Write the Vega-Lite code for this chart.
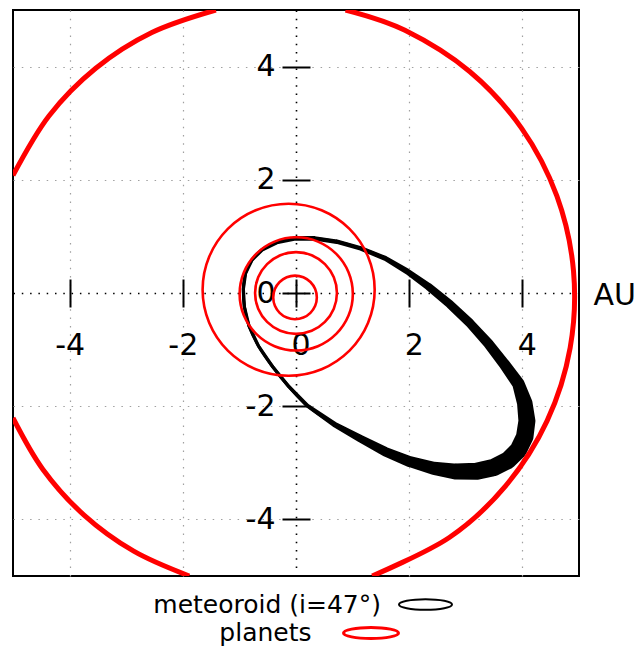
{
  "$schema": "https://vega.github.io/schema/vega-lite/v6.json",
  "width": 566,
  "height": 566,
  "padding": {"left": 13, "top": 10, "right": 0, "bottom": 0},
  "background": "white",
  "config": {
    "font": "DejaVu Sans",
    "view": {"stroke": "black", "strokeWidth": 2}
  },
  "datasets": {
    "meteoroid": [
      {"t": 0, "x": 3.928, "y": -2.773, "spread": 0.309},
      {"t": 10, "x": 4.041, "y": -2.539, "spread": 0.309},
      {"t": 20, "x": 4.080, "y": -2.260, "spread": 0.300},
      {"t": 30, "x": 4.042, "y": -1.946, "spread": 0.274},
      {"t": 40, "x": 3.930, "y": -1.606, "spread": 0.221},
      {"t": 50, "x": 3.676, "y": -1.251, "spread": 0.194},
      {"t": 60, "x": 3.396, "y": -0.891, "spread": 0.177},
      {"t": 70, "x": 3.077, "y": -0.537, "spread": 0.159},
      {"t": 80, "x": 2.720, "y": -0.200, "spread": 0.150},
      {"t": 90, "x": 2.344, "y": 0.110, "spread": 0.133},
      {"t": 100, "x": 1.963, "y": 0.383, "spread": 0.106},
      {"t": 110, "x": 1.578, "y": 0.611, "spread": 0.088},
      {"t": 120, "x": 1.143, "y": 0.788, "spread": 0.080},
      {"t": 130, "x": 0.721, "y": 0.907, "spread": 0.080},
      {"t": 140, "x": 0.325, "y": 0.965, "spread": 0.080},
      {"t": 150, "x": -0.033, "y": 0.961, "spread": 0.080},
      {"t": 160, "x": -0.342, "y": 0.894, "spread": 0.071},
      {"t": 170, "x": -0.593, "y": 0.767, "spread": 0.062},
      {"t": 180, "x": -0.778, "y": 0.583, "spread": 0.058},
      {"t": 190, "x": -0.891, "y": 0.349, "spread": 0.057},
      {"t": 200, "x": -0.930, "y": 0.070, "spread": 0.057},
      {"t": 210, "x": -0.912, "y": -0.244, "spread": 0.057},
      {"t": 220, "x": -0.830, "y": -0.584, "spread": 0.057},
      {"t": 230, "x": -0.661, "y": -0.939, "spread": 0.057},
      {"t": 240, "x": -0.415, "y": -1.299, "spread": 0.057},
      {"t": 250, "x": -0.127, "y": -1.653, "spread": 0.062},
      {"t": 260, "x": 0.200, "y": -1.990, "spread": 0.071},
      {"t": 270, "x": 0.676, "y": -2.320, "spread": 0.097},
      {"t": 280, "x": 1.137, "y": -2.573, "spread": 0.133},
      {"t": 290, "x": 1.572, "y": -2.801, "spread": 0.168},
      {"t": 300, "x": 2.007, "y": -2.978, "spread": 0.194},
      {"t": 310, "x": 2.429, "y": -3.097, "spread": 0.230},
      {"t": 320, "x": 2.825, "y": -3.155, "spread": 0.283},
      {"t": 330, "x": 3.183, "y": -3.151, "spread": 0.300},
      {"t": 340, "x": 3.492, "y": -3.084, "spread": 0.309},
      {"t": 350, "x": 3.743, "y": -2.957, "spread": 0.309},
      {"t": 360, "x": 3.928, "y": -2.773, "spread": 0.309}
    ],
    "jupiter": [
      {"arc": "A", "t": -71.87, "x": 1.346, "y": -5.0},
      {"arc": "A", "t": -55, "x": 2.709, "y": -4.319},
      {"arc": "A", "t": -40, "x": 3.708, "y": -3.403},
      {"arc": "A", "t": -25, "x": 4.436, "y": -2.260},
      {"arc": "A", "t": -10, "x": 4.844, "y": -0.967},
      {"arc": "A", "t": 5, "x": 4.903, "y": 0.388},
      {"arc": "A", "t": 20, "x": 4.610, "y": 1.711},
      {"arc": "A", "t": 35, "x": 3.984, "y": 2.914},
      {"arc": "A", "t": 50, "x": 3.068, "y": 3.913},
      {"arc": "A", "t": 65, "x": 1.925, "y": 4.641},
      {"arc": "A", "t": 77.25, "x": 0.876, "y": 5.0},
      {"arc": "B", "t": 102.75, "x": -1.416, "y": 5.0},
      {"arc": "B", "t": 116, "x": -2.547, "y": 4.603},
      {"arc": "B", "t": 129, "x": -3.538, "y": 3.971},
      {"arc": "B", "t": 142, "x": -4.362, "y": 3.132},
      {"arc": "B", "t": 155.62, "x": -5.0, "y": 2.078},
      {"arc": "C", "t": 204.38, "x": -5.0, "y": -2.208},
      {"arc": "C", "t": 216, "x": -4.471, "y": -3.117},
      {"arc": "C", "t": 228, "x": -3.745, "y": -3.924},
      {"arc": "C", "t": 240, "x": -2.867, "y": -4.562},
      {"arc": "C", "t": 251.87, "x": -1.886, "y": -5.0}
    ],
    "planets": [
      {"body": "Mars", "t": 0, "x": 1.390, "y": 0.058},
      {"body": "Mars", "t": 22.5, "x": 1.274, "y": 0.640},
      {"body": "Mars", "t": 45, "x": 0.945, "y": 1.133},
      {"body": "Mars", "t": 67.5, "x": 0.452, "y": 1.462},
      {"body": "Mars", "t": 90, "x": -0.130, "y": 1.578},
      {"body": "Mars", "t": 112.5, "x": -0.712, "y": 1.462},
      {"body": "Mars", "t": 135, "x": -1.205, "y": 1.133},
      {"body": "Mars", "t": 157.5, "x": -1.534, "y": 0.640},
      {"body": "Mars", "t": 180, "x": -1.650, "y": 0.058},
      {"body": "Mars", "t": 202.5, "x": -1.534, "y": -0.524},
      {"body": "Mars", "t": 225, "x": -1.205, "y": -1.017},
      {"body": "Mars", "t": 247.5, "x": -0.712, "y": -1.346},
      {"body": "Mars", "t": 270, "x": -0.130, "y": -1.462},
      {"body": "Mars", "t": 292.5, "x": 0.452, "y": -1.346},
      {"body": "Mars", "t": 315, "x": 0.945, "y": -1.017},
      {"body": "Mars", "t": 337.5, "x": 1.274, "y": -0.524},
      {"body": "Earth", "t": 0, "x": 1.004, "y": -0.016},
      {"body": "Earth", "t": 22.5, "x": 0.928, "y": 0.367},
      {"body": "Earth", "t": 45, "x": 0.711, "y": 0.691},
      {"body": "Earth", "t": 67.5, "x": 0.387, "y": 0.908},
      {"body": "Earth", "t": 90, "x": 0.004, "y": 0.984},
      {"body": "Earth", "t": 112.5, "x": -0.379, "y": 0.908},
      {"body": "Earth", "t": 135, "x": -0.703, "y": 0.691},
      {"body": "Earth", "t": 157.5, "x": -0.920, "y": 0.367},
      {"body": "Earth", "t": 180, "x": -0.996, "y": -0.016},
      {"body": "Earth", "t": 202.5, "x": -0.920, "y": -0.399},
      {"body": "Earth", "t": 225, "x": -0.703, "y": -0.723},
      {"body": "Earth", "t": 247.5, "x": -0.379, "y": -0.940},
      {"body": "Earth", "t": 270, "x": 0.004, "y": -1.016},
      {"body": "Earth", "t": 292.5, "x": 0.387, "y": -0.940},
      {"body": "Earth", "t": 315, "x": 0.711, "y": -0.723},
      {"body": "Earth", "t": 337.5, "x": 0.928, "y": -0.399},
      {"body": "Venus", "t": 0, "x": 0.723, "y": 0.0},
      {"body": "Venus", "t": 22.5, "x": 0.668, "y": 0.277},
      {"body": "Venus", "t": 45, "x": 0.511, "y": 0.511},
      {"body": "Venus", "t": 67.5, "x": 0.277, "y": 0.668},
      {"body": "Venus", "t": 90, "x": 0.0, "y": 0.723},
      {"body": "Venus", "t": 112.5, "x": -0.277, "y": 0.668},
      {"body": "Venus", "t": 135, "x": -0.511, "y": 0.511},
      {"body": "Venus", "t": 157.5, "x": -0.668, "y": 0.277},
      {"body": "Venus", "t": 180, "x": -0.723, "y": 0.0},
      {"body": "Venus", "t": 202.5, "x": -0.668, "y": -0.277},
      {"body": "Venus", "t": 225, "x": -0.511, "y": -0.511},
      {"body": "Venus", "t": 247.5, "x": -0.277, "y": -0.668},
      {"body": "Venus", "t": 270, "x": 0.0, "y": -0.723},
      {"body": "Venus", "t": 292.5, "x": 0.277, "y": -0.668},
      {"body": "Venus", "t": 315, "x": 0.511, "y": -0.511},
      {"body": "Venus", "t": 337.5, "x": 0.668, "y": -0.277},
      {"body": "Mercury", "t": 0, "x": 0.368, "y": -0.078},
      {"body": "Mercury", "t": 22.5, "x": 0.339, "y": 0.069},
      {"body": "Mercury", "t": 45, "x": 0.255, "y": 0.194},
      {"body": "Mercury", "t": 67.5, "x": 0.130, "y": 0.278},
      {"body": "Mercury", "t": 90, "x": -0.017, "y": 0.307},
      {"body": "Mercury", "t": 112.5, "x": -0.164, "y": 0.278},
      {"body": "Mercury", "t": 135, "x": -0.289, "y": 0.194},
      {"body": "Mercury", "t": 157.5, "x": -0.373, "y": 0.069},
      {"body": "Mercury", "t": 180, "x": -0.402, "y": -0.078},
      {"body": "Mercury", "t": 202.5, "x": -0.373, "y": -0.225},
      {"body": "Mercury", "t": 225, "x": -0.289, "y": -0.350},
      {"body": "Mercury", "t": 247.5, "x": -0.164, "y": -0.434},
      {"body": "Mercury", "t": 270, "x": -0.017, "y": -0.463},
      {"body": "Mercury", "t": 292.5, "x": 0.130, "y": -0.434},
      {"body": "Mercury", "t": 315, "x": 0.255, "y": -0.350},
      {"body": "Mercury", "t": 337.5, "x": 0.339, "y": -0.225}
    ]
  },
  "encoding": {
    "x": {
      "field": "x",
      "type": "quantitative",
      "scale": {"domain": [-5, 5], "nice": false, "zero": false, "clamp": false},
      "axis": {
        "orient": "bottom",
        "offset": -297,
        "domain": false,
        "values": [-4, -2, 0, 2, 4],
        "labelExpr": "toString(datum.value)",
        "tickSize": 28,
        "tickWidth": 2,
        "tickColor": "black",
        "labelFont": "DejaVu Sans",
        "labelFontSize": 30,
        "labelColor": "black",
        "labelPadding": 23,
        "labelFlush": false,
        "labelOverlap": false,
        "labelOffset": {"condition": {"test": "datum.value >= 0", "value": 4.5}, "value": 0},
        "grid": true,
        "gridColor": {"condition": {"test": "datum.value === 0", "value": "#000000"}, "value": "#a0a0a0"},
        "gridWidth": {"condition": {"test": "datum.value === 0", "value": 1.6}, "value": 1.2},
        "gridDash": [1.5, 6.8],
        "title": "AU",
        "titleFont": "DejaVu Sans",
        "titleFontSize": 30,
        "titleFontWeight": "normal",
        "titleColor": "black",
        "titleAlign": "left",
        "titleBaseline": "middle",
        "titleAngle": 0,
        "titleX": 580,
        "titleY": 16.7,
        "zindex": 0
      }
    },
    "y": {
      "field": "y",
      "type": "quantitative",
      "scale": {"domain": [-5, 5], "nice": false, "zero": false, "clamp": false},
      "axis": {
        "orient": "left",
        "offset": -297,
        "domain": false,
        "values": [-4, -2, 0, 2, 4],
        "labelExpr": "toString(datum.value)",
        "tickSize": 28,
        "tickWidth": 2,
        "tickColor": "black",
        "labelFont": "DejaVu Sans",
        "labelFontSize": 30,
        "labelColor": "black",
        "labelPadding": 7,
        "labelFlush": false,
        "labelOverlap": false,
        "grid": true,
        "gridColor": {"condition": {"test": "datum.value === 0", "value": "#000000"}, "value": "#a0a0a0"},
        "gridWidth": {"condition": {"test": "datum.value === 0", "value": 1.6}, "value": 1.2},
        "gridDash": [1.5, 6.8],
        "title": null,
        "zindex": 0
      }
    }
  },
  "layer": [
    {
      "data": {"name": "meteoroid"},
      "mark": {"type": "trail", "color": "#000000"},
      "encoding": {
        "order": {"field": "t", "type": "quantitative"},
        "size": {
          "field": "spread",
          "type": "quantitative",
          "scale": {"domain": [0, 1], "range": [0, 56.6], "zero": true},
          "legend": null
        }
      }
    },
    {
      "data": {"name": "meteoroid"},
      "transform": [{"filter": "datum.t < 360"}],
      "mark": {"type": "line", "interpolate": "cardinal-closed", "strokeWidth": 3},
      "encoding": {
        "order": {"field": "t", "type": "quantitative"},
        "color": {
          "datum": "meteoroid (i=47°)",
          "scale": {"range": ["#000000"]},
          "legend": {
            "title": null,
            "orient": "none",
            "legendX": 385,
            "legendY": 567,
            "symbolType": "M -1 0 A 1 0.2 0 1 0 1 0 A 1 0.2 0 1 0 -1 0 Z",
            "symbolSize": 2809,
            "symbolStrokeWidth": 2,
            "symbolFillColor": "transparent",
            "labelAlign": "right",
            "labelBaseline": "middle",
            "labelOffset": -72,
            "labelFont": "DejaVu Sans",
            "labelFontSize": 25,
            "labelColor": "black",
            "labelLimit": 600
          }
        }
      }
    },
    {
      "data": {"name": "jupiter"},
      "mark": {"type": "line", "interpolate": "cardinal", "strokeWidth": 5, "clip": true},
      "encoding": {
        "order": {"field": "t", "type": "quantitative"},
        "detail": {"field": "arc", "type": "nominal"},
        "stroke": {
          "datum": "planets",
          "scale": {"range": ["#ff0000"]},
          "legend": {
            "title": null,
            "orient": "none",
            "legendX": 329,
            "legendY": 594,
            "symbolType": "M -1 0 A 1 0.2 0 1 0 1 0 A 1 0.2 0 1 0 -1 0 Z",
            "symbolSize": 3025,
            "symbolStrokeWidth": 3,
            "symbolFillColor": "transparent",
            "labelAlign": "right",
            "labelBaseline": "middle",
            "labelOffset": -88.5,
            "labelFont": "DejaVu Sans",
            "labelFontSize": 25,
            "labelColor": "black",
            "labelLimit": 600
          }
        }
      }
    },
    {
      "data": {"name": "planets"},
      "mark": {"type": "line", "interpolate": "cardinal-closed", "strokeWidth": 2.6},
      "encoding": {
        "order": {"field": "t", "type": "quantitative"},
        "detail": {"field": "body", "type": "nominal"},
        "stroke": {
          "datum": "planets",
          "scale": {"range": ["#ff0000"]}
        }
      }
    }
  ]
}
